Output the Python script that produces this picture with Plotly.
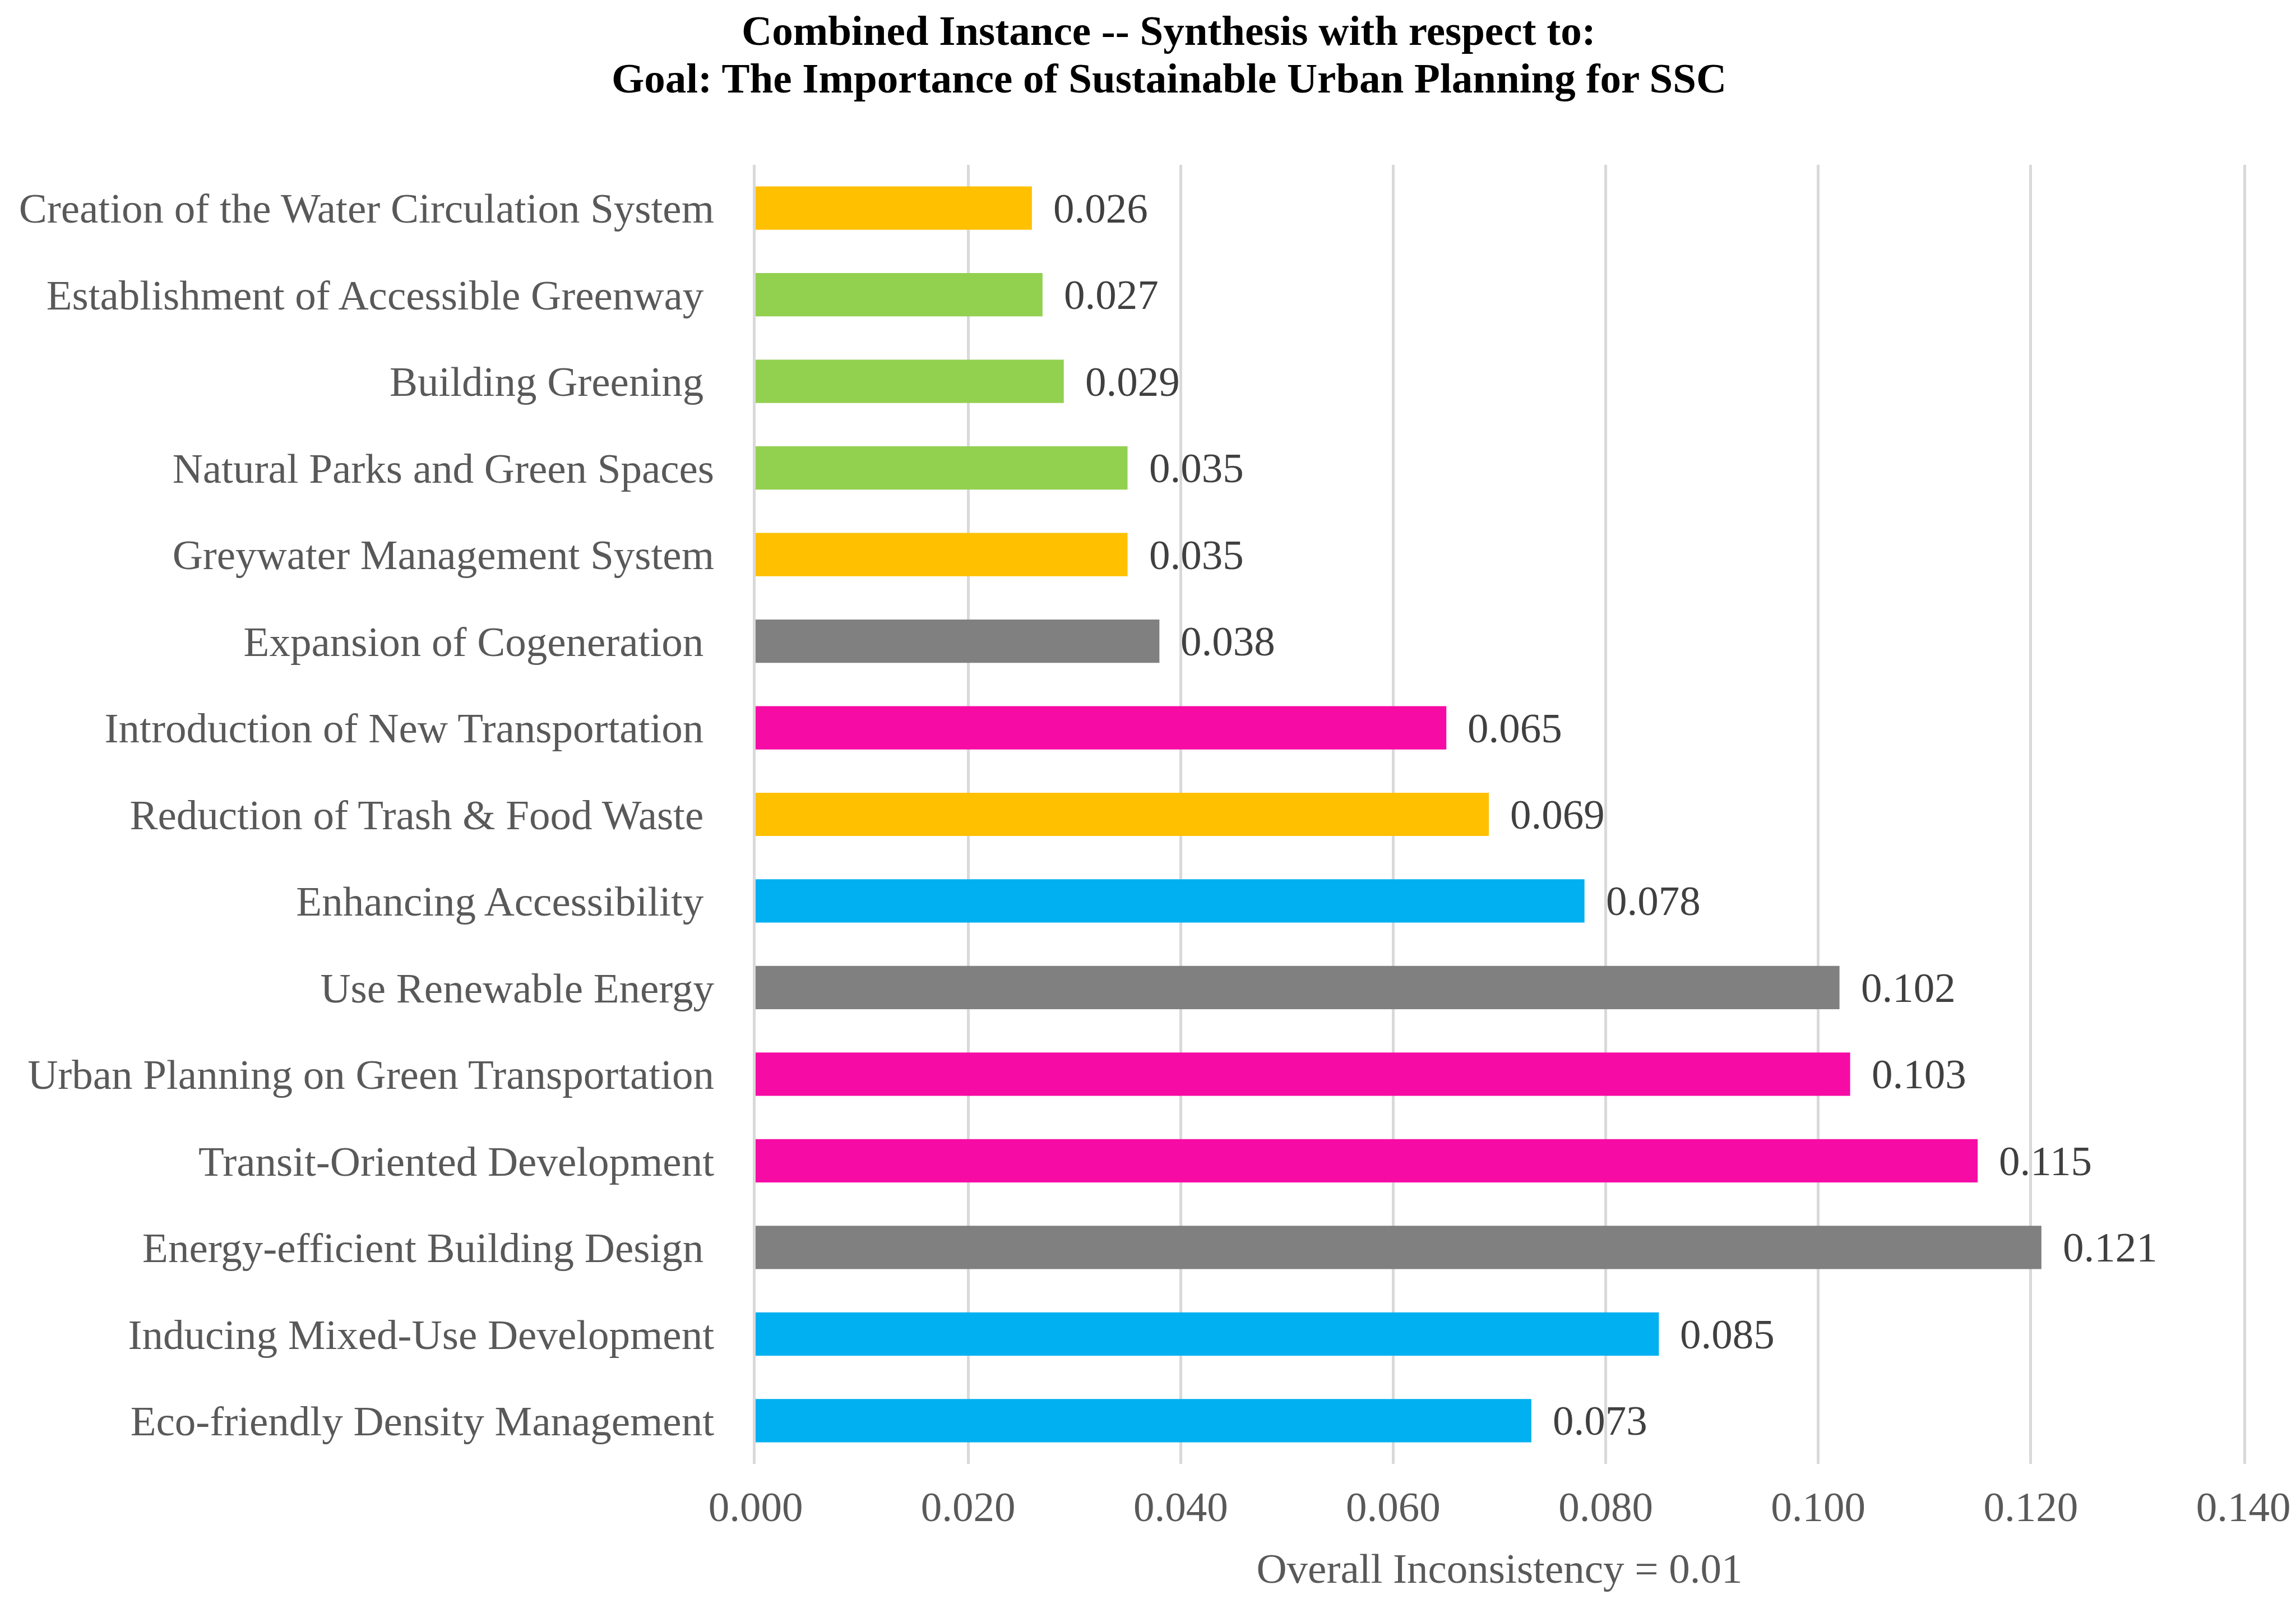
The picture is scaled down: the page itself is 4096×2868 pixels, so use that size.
import plotly.graph_objects as go

# datos (de abajo hacia arriba, como los dibuja plotly)
categorias = [
    "Eco-friendly Density Management",
    "Inducing Mixed-Use Development",
    "Energy-efficient Building Design ",
    "Transit-Oriented Development",
    "Urban Planning on Green Transportation",
    "Use Renewable Energy",
    "Enhancing Accessibility ",
    "Reduction of Trash & Food Waste ",
    "Introduction of New Transportation ",
    "Expansion of Cogeneration ",
    "Greywater Management System",
    "Natural Parks and Green Spaces",
    "Building Greening ",
    "Establishment of Accessible Greenway ",
    "Creation of the Water Circulation System",
]
valores = [0.073, 0.085, 0.121, 0.115, 0.103, 0.102, 0.078, 0.069,
           0.065, 0.038, 0.035, 0.035, 0.029, 0.027, 0.026]
grupos = ["blue", "blue", "gray", "pink", "pink", "gray", "blue", "orange",
          "pink", "gray", "orange", "green", "green", "green", "orange"]
x_ticks = [0.0, 0.02, 0.04, 0.06, 0.08, 0.10, 0.12, 0.14]

titulo_1 = "Combined Instance -- Synthesis with respect to:"
titulo_2 = "Goal: The Importance of Sustainable Urban Planning for SSC"

paleta = {"blue": "#00B0F0", "gray": "#808080", "pink": "#F70BA5",
          "orange": "#FFC000", "green": "#92D050"}

fuente = "Liberation Serif, Times New Roman, serif"
gris_rejilla = "#D9D9D9"

trace = go.Bar(
    y=categorias,
    x=valores,
    orientation="h",
    marker=dict(color=[paleta[g] for g in grupos], line=dict(width=0)),
    width=0.5,
    hoverinfo="x+y",
)

# etiquetas de valor a la derecha de cada barra
etiquetas = [
    dict(x=v, y=c, text=f"{v:.3f}", xref="x", yref="y", xanchor="left",
         yanchor="middle", xshift=36, showarrow=False,
         font=dict(family=fuente, size=75, color="#404040"))
    for c, v in zip(categorias, valores)
]

# titulo en dos lineas, centrado en la figura completa
for texto, y in [(titulo_1, 1.1034), (titulo_2, 1.0665)]:
    etiquetas.append(dict(text=f"<b>{texto}</b>", x=0.2777, xref="paper",
                          y=y, yref="paper", xanchor="center",
                          yanchor="middle", showarrow=False,
                          font=dict(family=fuente, size=75, color="black")))

layout = go.Layout(
    width=4096,
    height=2868,
    margin=dict(l=1340, r=102, t=286, b=265),
    paper_bgcolor="white",
    plot_bgcolor="white",
    showlegend=False,
    xaxis=dict(
        range=[0, 0.14],
        tickvals=x_ticks,
        tickformat=".3f",
        showgrid=True,
        gridcolor=gris_rejilla,
        gridwidth=5,
        zeroline=False,
        showline=False,
        ticks="",
        ticklabelstandoff=26,
        tickfont=dict(family=fuente, size=75, color="#595959"),
        title=dict(text="Overall Inconsistency = 0.01", standoff=42,
                   font=dict(family=fuente, size=75, color="#595959")),
    ),
    yaxis=dict(
        categoryorder="array",
        categoryarray=categorias,
        range=[-0.5, len(categorias) - 0.5],
        showgrid=False,
        zeroline=False,
        # lineas de rejilla en 0.000 y 0.140 (bordes del area)
        showline=True,
        mirror=True,
        linecolor=gris_rejilla,
        linewidth=5,
        ticks="",
        ticklabelstandoff=54,
        tickfont=dict(family=fuente, size=75, color="#595959"),
    ),
    annotations=etiquetas,
    bargap=0.5,
)

fig = go.Figure(data=[trace], layout=layout)
fig.write_html("out.html")
